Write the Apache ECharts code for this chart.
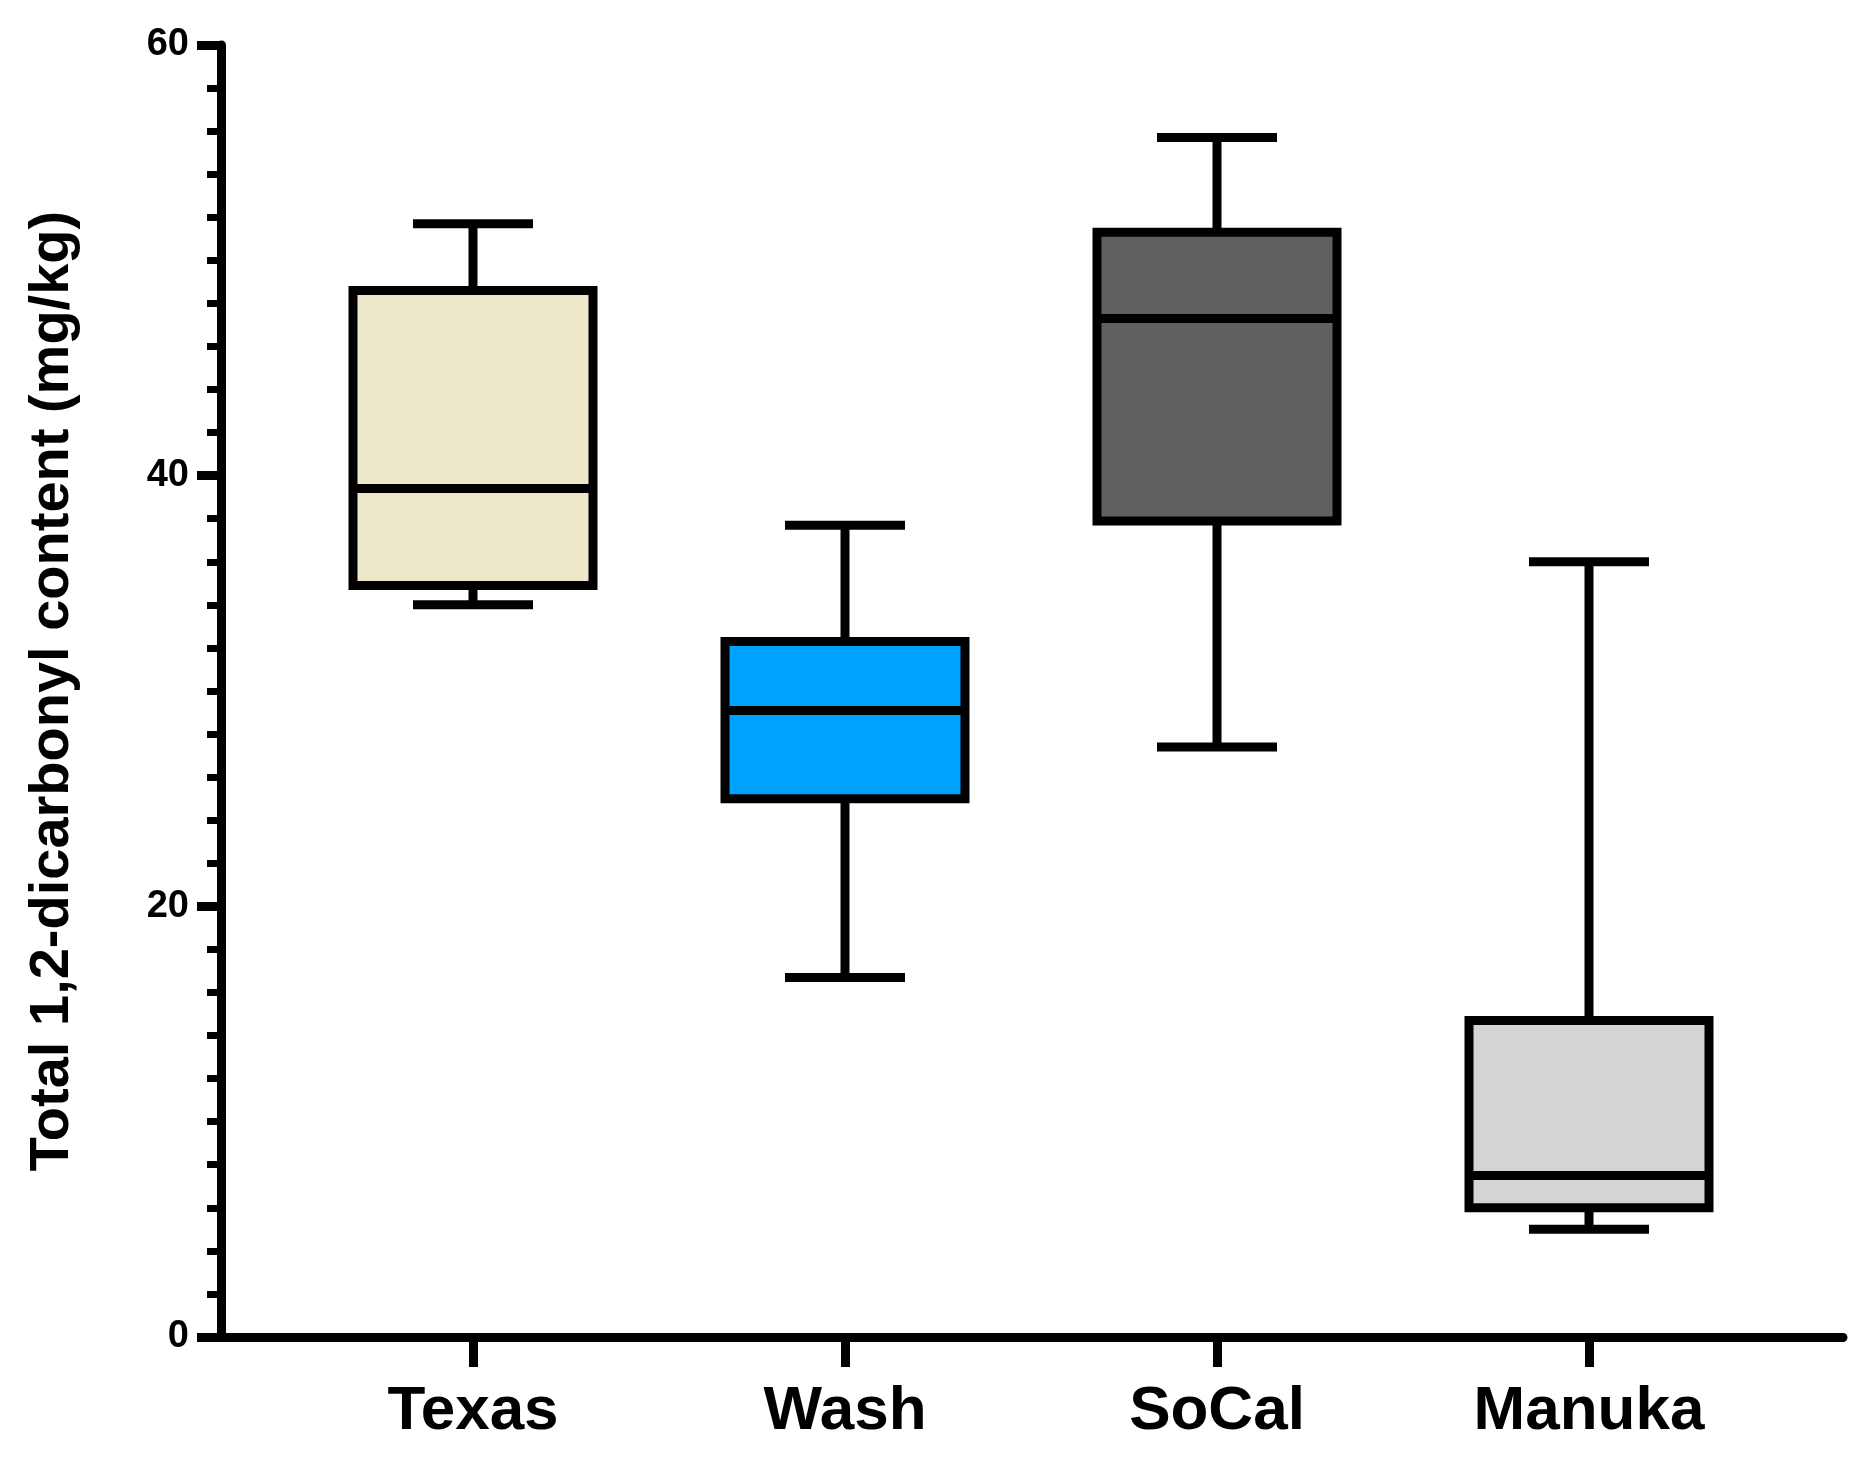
<!DOCTYPE html>
<html><head><meta charset="utf-8">
<script src="https://cdn.jsdelivr.net/npm/echarts@6/dist/echarts.min.js"></script>
<style>html,body{margin:0;background:#fff}#c{width:1868px;height:1467px}</style>
</head><body><div id="c"></div>
<script>
const categories = ['Texas','Wash','SoCal','Manuka'];
const lowW  = [34.0, 16.7, 27.4, 5.0];
const q1    = [34.9, 25.0, 37.9, 6.0];
const med   = [39.4, 29.1, 47.3, 7.5];
const q3    = [48.6, 32.3, 51.3, 14.7];
const highW = [51.7, 37.7, 55.7, 36.0];
const colors = ['#EDE8CA','#00A2FF','#606060','#D4D4D4'];
const yTicks = [0,20,40,60];

const data = categories.map((c,i)=>[i, lowW[i], q1[i], med[i], q3[i], highW[i]]);
const chart = echarts.init(document.getElementById('c'));
const LW = 9, BOXW = 240, CAPW = 120;
chart.setOption({
  animation:false,
  grid:[{left:221,right:25,top:45,bottom:130},{left:287,right:93,top:45,bottom:130}],
  xAxis:[
    {gridIndex:0,type:'value',min:0,max:1,axisLine:{show:true,lineStyle:{color:'#000',width:LW}},axisTick:{show:false},axisLabel:{show:false},splitLine:{show:false}},
    {gridIndex:1,type:'category',data:categories,axisLine:{show:false},
     axisTick:{show:true,alignWithLabel:true,length:30,lineStyle:{color:'#000',width:LW}},
     axisLabel:{color:'#000',fontFamily:'Liberation Sans, Arial',fontWeight:'bold',fontSize:62,margin:44},splitLine:{show:false}}
  ],
  yAxis:[
    {gridIndex:0,type:'value',min:0,max:60,interval:20,
     name:'Total 1,2-dicarbonyl content (mg/kg)',nameLocation:'middle',nameGap:140,
     nameTextStyle:{color:'#000',fontFamily:'Liberation Sans, Arial',fontWeight:'bold',fontSize:56},
     axisLine:{show:true,lineStyle:{color:'#000',width:LW}},
     axisTick:{show:true,length:24,lineStyle:{color:'#000',width:LW}},
     minorTick:{show:true,splitNumber:10,length:14,lineStyle:{color:'#000',width:7}},
     axisLabel:{color:'#000',fontFamily:'Liberation Sans, Arial',fontWeight:'bold',fontSize:38,margin:32,
       formatter:v=>yTicks.includes(v)?String(v):''},
     splitLine:{show:false}},
    {gridIndex:1,type:'value',min:0,max:60,show:false}
  ],
  series:[{
    type:'custom',xAxisIndex:1,yAxisIndex:1,data:data,
    renderItem:(params,api)=>{
      const i=api.value(0);
      const pLow=api.coord([i,api.value(1)]), pQ1=api.coord([i,api.value(2)]),
            pMed=api.coord([i,api.value(3)]), pQ3=api.coord([i,api.value(4)]), pHi=api.coord([i,api.value(5)]);
      const x=pLow[0], st={stroke:'#000',lineWidth:LW};
      return {type:'group',children:[
        {type:'line',shape:{x1:x,y1:pLow[1],x2:x,y2:pQ1[1]},style:st},
        {type:'line',shape:{x1:x,y1:pQ3[1],x2:x,y2:pHi[1]},style:st},
        {type:'line',shape:{x1:x-CAPW/2,y1:pLow[1],x2:x+CAPW/2,y2:pLow[1]},style:st},
        {type:'line',shape:{x1:x-CAPW/2,y1:pHi[1],x2:x+CAPW/2,y2:pHi[1]},style:st},
        {type:'rect',shape:{x:x-BOXW/2,y:pQ3[1],width:BOXW,height:pQ1[1]-pQ3[1]},style:{fill:colors[i],stroke:'#000',lineWidth:LW}},
        {type:'line',shape:{x1:x-BOXW/2,y1:pMed[1],x2:x+BOXW/2,y2:pMed[1]},style:st}
      ]};
    }
  }]
});
</script></body></html>
